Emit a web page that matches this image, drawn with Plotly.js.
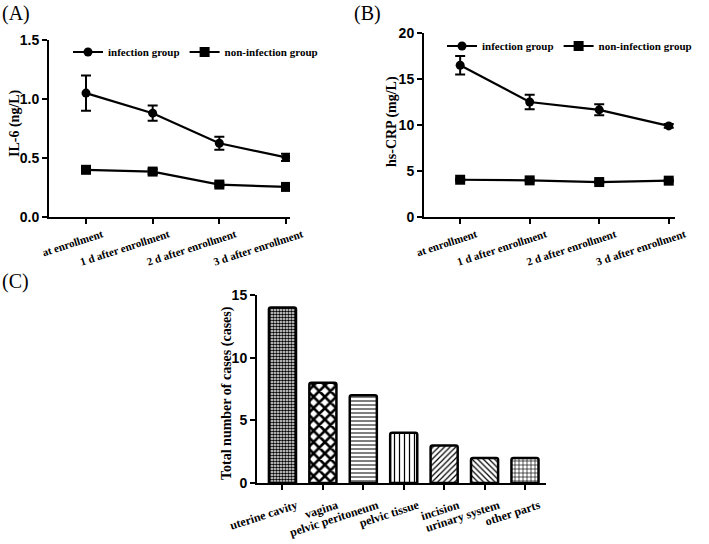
<!DOCTYPE html>
<html>
<head>
<meta charset="utf-8">
<script src="https://cdn.plot.ly/plotly-3.0.1.min.js"></script>
<style>
  body { margin: 0; background: #fff; }
  #chart { width: 709px; height: 544px; }
</style>
</head>
<body>
<div id="chart"></div>
<script>
// time points for panels A and B
const timePoints = ['at enrollment', '1 d after enrollment', '2 d after enrollment', '3 d after enrollment'];

// panel A: IL-6 (ng/L)
const il6Infection = [1.05, 0.88, 0.625, 0.505];
const il6InfectionErr = [0.15, 0.065, 0.055, 0.03];
const il6NonInfection = [0.40, 0.385, 0.275, 0.255];
const il6NonInfectionErr = [0.02, 0.02, 0.015, 0.015];

// panel B: hs-CRP (mg/L)
const crpInfection = [16.5, 12.5, 11.65, 9.9];
const crpInfectionErr = [1.0, 0.8, 0.6, 0.2];
const crpNonInfection = [4.05, 3.98, 3.8, 3.95];
const crpNonInfectionErr = [0.1, 0.1, 0.1, 0.1];

// panel C: infection sites
const sites = ['uterine cavity', 'vagina', 'pelvic peritoneum', 'pelvic tissue', 'incision', 'urinary system', 'other parts'];
const siteCases = [14, 8, 7, 4, 3, 2, 2];
const sitePatterns = ['.', 'x', '-', '|', '/', '\\', '+'];
const patternSizes = [3, 8, 4, 5, 4, 4, 4];
const patternSolidity = [0.6, 0.55, 0.25, 0.25, 0.3, 0.3, 0.3];

const serifBold = { family: 'Liberation Serif', size: 11, color: '#000', weight: 700 };
const sansBold = { family: 'Liberation Sans', size: 14, color: '#000', weight: 700 };
const titleFont = { family: 'Liberation Serif', size: 14, color: '#000', weight: 700 };
const panelFont = { family: 'Liberation Serif', size: 20, color: '#000' };

function lineTrace(y, err, name, symbol, xa, ya, legend) {
    return {
        x: timePoints,
        y: y,
        name: name,
        type: 'scatter',
        mode: 'lines+markers',
        xaxis: xa,
        yaxis: ya,
        legend: legend,
        line: { color: '#000', width: 2.2 },
        marker: { symbol: symbol, size: symbol === 'square' ? 10 : 9, color: '#000' },
        error_y: { type: 'data', array: err, visible: true, color: '#000', thickness: 2, width: 5 }
    };
}

const data = [
    lineTrace(il6Infection, il6InfectionErr, 'infection group', 'circle', 'x', 'y', 'legend'),
    lineTrace(il6NonInfection, il6NonInfectionErr, 'non-infection group', 'square', 'x', 'y', 'legend'),
    lineTrace(crpInfection, crpInfectionErr, 'infection group', 'circle', 'x2', 'y2', 'legend2'),
    lineTrace(crpNonInfection, crpNonInfectionErr, 'non-infection group', 'square', 'x2', 'y2', 'legend2'),
    {
        x: sites,
        y: siteCases,
        type: 'bar',
        xaxis: 'x3',
        yaxis: 'y3',
        showlegend: false,
        width: 0.67,
        marker: {
            color: '#fff',
            cornerradius: 2,
            line: { color: '#000', width: 2.5 },
            pattern: { shape: sitePatterns, fgcolor: '#000', bgcolor: '#fff', size: patternSizes, solidity: patternSolidity }
        }
    }
];

function xAxis(domain, range, anchor, fontSize, shift, standoff) {
    return {
        domain: domain, range: range, anchor: anchor,
        type: 'category',
        showline: true, linecolor: '#000', linewidth: 2,
        ticks: 'outside', ticklen: 5, tickwidth: 2, tickcolor: '#000',
        showgrid: false, zeroline: false,
        tickangle: -18, ticklabelshift: shift, ticklabelstandoff: standoff,
        tickfont: Object.assign({}, serifBold, { size: fontSize }), automargin: false
    };
}

function yAxis(domain, range, dtick, anchor, fmt) {
    return {
        domain: domain, range: range, anchor: anchor, dtick: dtick,
        tickformat: fmt,
        showline: true, linecolor: '#000', linewidth: 2,
        ticks: 'outside', ticklen: 5, tickwidth: 2, tickcolor: '#000',
        showgrid: false, zeroline: false,
        tickfont: sansBold, automargin: false
    };
}

const legendBase = {
    orientation: 'h', xanchor: 'left', yanchor: 'middle',
    font: serifBold, bgcolor: 'rgba(0,0,0,0)',
    itemwidth: 30, tracegroupgap: 0
};

function note(text, x, y, font, angle, xanchor, yanchor) {
    return {
        text: text, x: x / 709, y: 1 - y / 544, xref: 'paper', yref: 'paper',
        xanchor: xanchor, yanchor: yanchor, showarrow: false, font: font, textangle: angle
    };
}

const layout = {
    width: 709,
    height: 544,
    margin: { l: 0, r: 0, t: 0, b: 0 },
    paper_bgcolor: '#fff',
    plot_bgcolor: '#fff',
    xaxis: xAxis([49 / 709, 290 / 709], [-0.555, 3.06], 'y', 11, 16, 0),
    yaxis: yAxis([1 - 217 / 544, 1 - 40 / 544], [0, 1.5], 0.5, 'x', '.1f'),
    xaxis2: xAxis([424 / 709, 675 / 709], [-0.52, 3.09], 'y2', 11, 16, 0),
    yaxis2: yAxis([1 - 217 / 544, 1 - 33 / 544], [0, 20], 5, 'x2', 'd'),
    xaxis3: xAxis([257 / 709, 546 / 709], [-0.63, 6.52], 'y3', 12, 14, 4),
    yaxis3: yAxis([1 - 483 / 544, 1 - 295 / 544], [0, 15], 5, 'x3', 'd'),
    legend: Object.assign({}, legendBase, { x: 68 / 709, y: 1 - 52 / 544 }),
    legend2: Object.assign({}, legendBase, { x: 442 / 709, y: 1 - 46 / 544 }),
    annotations: [
        note('(A)', 0, 0, panelFont, 0, 'left', 'top'),
        note('(B)', 352, 0, panelFont, 0, 'left', 'top'),
        note('(C)', 0, 268, panelFont, 0, 'left', 'top'),
        note('IL-6 (ng/L)', 15, 123, titleFont, -90, 'center', 'middle'),
        note('hs-CRP (mg/L)', 392, 122, titleFont, -90, 'center', 'middle'),
        note('Total number of cases (cases)', 227, 393, titleFont, -90, 'center', 'middle')
    ]
};

Plotly.newPlot('chart', data, layout, { displayModeBar: false, staticPlot: true });
</script>
</body>
</html>
